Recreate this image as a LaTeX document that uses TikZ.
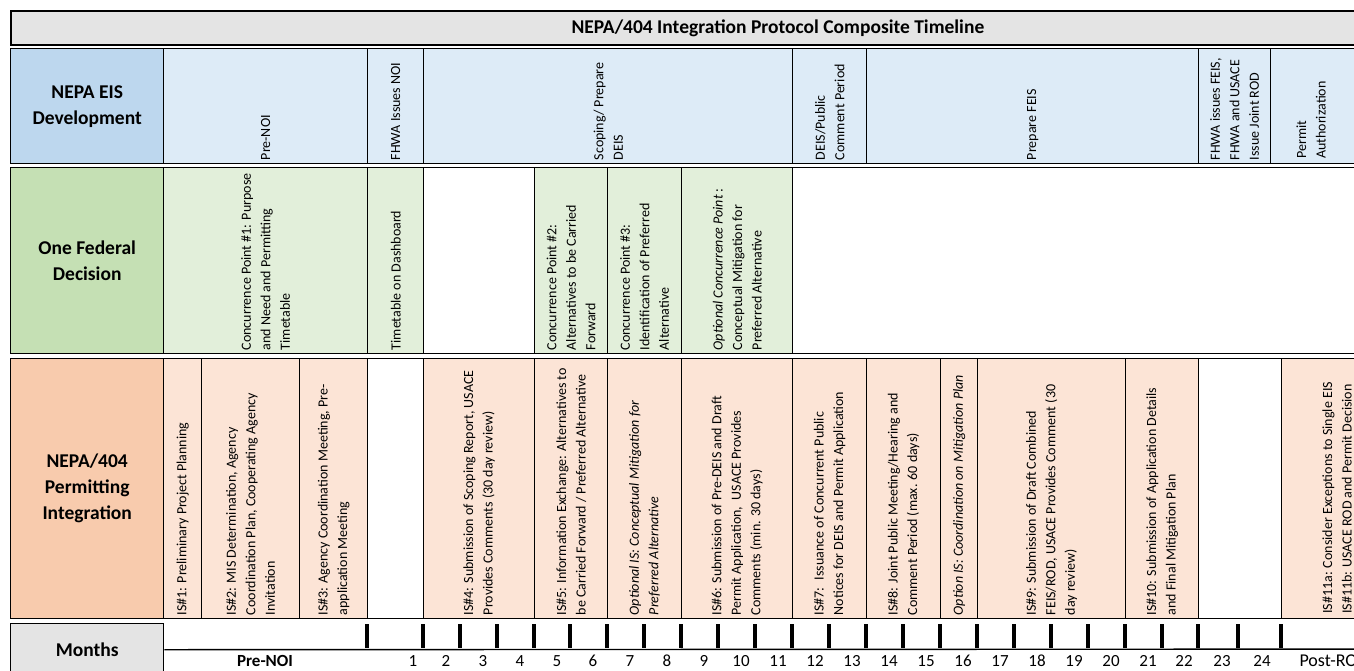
\documentclass[tikz,border=0pt]{standalone}
\usepackage{fontspec}
\setmainfont{Carlito}
\definecolor{eishead}{HTML}{BDD7EE}
\definecolor{eisfill}{HTML}{DDEBF7}
\definecolor{ofdhead}{HTML}{C5E0B4}
\definecolor{ofdfill}{HTML}{E2EFDA}
\definecolor{pmhead}{HTML}{F8CBAD}
\definecolor{pmfill}{HTML}{FCE4D6}
\definecolor{hdgray}{HTML}{E4E4E4}

\begin{document}
\begin{tikzpicture}[x=1pt, y=-1pt,
    cell/.style={draw, line width=1.4pt, inner sep=0pt, anchor=north west},
    head/.style={cell, align=center, font=\bfseries\fontsize{19.5}{26}\selectfont},
    vtext/.style={rotate=90, anchor=west, align=left, inner sep=0pt, font=\fontsize{14}{19.5}\selectfont},
    tickbar/.style={line width=4pt},
    month/.style={font=\fontsize{17}{20}\selectfont}
]
\useasboundingbox (0,0) rectangle (1354,670);

% title bar
\node[head, fill=hdgray, line width=1.8pt, minimum width=1534pt, minimum height=34pt] (title) at (10,10) {NEPA/404 Integration Protocol Composite Timeline};

% NEPA EIS development row
\node[head, fill=eishead, minimum width=153pt, minimum height=115pt] (eis) at (10,48) {NEPA EIS\\Development};
\node[cell, fill=eisfill, minimum width=204pt, minimum height=115pt] (eisPre) at (163,48) {};
\node[cell, fill=eisfill, minimum width=56pt, minimum height=115pt] (eisNoi) at (367,48) {};
\node[cell, fill=eisfill, minimum width=369pt, minimum height=115pt] (eisScope) at (423,48) {};
\node[cell, fill=eisfill, minimum width=74pt, minimum height=115pt] (eisDeis) at (792,48) {};
\node[cell, fill=eisfill, minimum width=332pt, minimum height=115pt] (eisFeis) at (866,48) {};
\node[cell, fill=eisfill, minimum width=72pt, minimum height=115pt] (eisRod) at (1198,48) {};
\node[cell, fill=eisfill, minimum width=274pt, minimum height=115pt] (eisPermit) at (1270,48) {};

\node[vtext] (eisPreTxt) at ([yshift=4pt]eisPre.south) {Pre-NOI};
\node[vtext] (eisNoiTxt) at ([yshift=4pt]eisNoi.south) {FHWA Issues NOI};
\node[vtext] (eisScopeTxt) at ([yshift=4pt]eisScope.south) {Scoping/ Prepare\\DEIS};
\node[vtext] (eisDeisTxt) at ([yshift=4pt]eisDeis.south) {DEIS/Public\\Comment Period};
\node[vtext] (eisFeisTxt) at ([yshift=4pt]eisFeis.south) {Prepare FEIS};
\node[vtext] (eisRodTxt) at ([yshift=4pt]eisRod.south) {FHWA issues FEIS,\\FHWA and USACE\\Issue Joint ROD};
\node[vtext] (eisPermitTxt) at (1311,159) {Permit\\Authorization};

% One Federal Decision row
\node[head, fill=ofdhead, minimum width=153pt, minimum height=186pt] (ofd) at (10,167) {One Federal\\Decision};
\node[cell, fill=ofdfill, minimum width=204pt, minimum height=186pt] (ofdCp1) at (163,167) {};
\node[cell, fill=ofdfill, minimum width=56pt, minimum height=186pt] (ofdDash) at (367,167) {};
\node[cell, fill=white, minimum width=111pt, minimum height=186pt] (ofdGap) at (423,167) {};
\node[cell, fill=ofdfill, minimum width=73pt, minimum height=186pt] (ofdCp2) at (534,167) {};
\node[cell, fill=ofdfill, minimum width=74pt, minimum height=186pt] (ofdCp3) at (607,167) {};
\node[cell, fill=ofdfill, minimum width=111pt, minimum height=186pt] (ofdOpt) at (681,167) {};
\node[cell, fill=white, minimum width=752pt, minimum height=186pt] (ofdRest) at (792,167) {};

\node[vtext] (ofdCp1Txt) at ([yshift=4pt]ofdCp1.south) {Concurrence Point \#1: Purpose\\and Need and Permitting\\Timetable};
\node[vtext] (ofdDashTxt) at ([yshift=4pt]ofdDash.south) {Timetable on Dashboard};
\node[vtext] (ofdCp2Txt) at ([yshift=4pt]ofdCp2.south) {Concurrence Point \#2:\\Alternatives to be Carried\\Forward};
\node[vtext] (ofdCp3Txt) at ([yshift=4pt]ofdCp3.south) {Concurrence Point \#3:\\Identification of Preferred\\Alternative};
\node[vtext] (ofdOptTxt) at ([yshift=4pt]ofdOpt.south) {\textit{Optional Concurrence Point} :\\Conceptual Mitigation for\\Preferred Alternative};

% NEPA/404 permitting integration row
\node[head, fill=pmhead, minimum width=153pt, minimum height=260pt] (pm) at (10,358) {NEPA/404\\Permitting\\Integration};
\node[cell, fill=pmfill, minimum width=38pt, minimum height=260pt] (pmIs1) at (163,358) {};
\node[cell, fill=pmfill, minimum width=98pt, minimum height=260pt] (pmIs2) at (201,358) {};
\node[cell, fill=pmfill, minimum width=68pt, minimum height=260pt] (pmIs3) at (299,358) {};
\node[cell, fill=white, minimum width=56pt, minimum height=260pt] (pmGap) at (367,358) {};
\node[cell, fill=pmfill, minimum width=111pt, minimum height=260pt] (pmIs4) at (423,358) {};
\node[cell, fill=pmfill, minimum width=73pt, minimum height=260pt] (pmIs5) at (534,358) {};
\node[cell, fill=pmfill, minimum width=74pt, minimum height=260pt] (pmOpt) at (607,358) {};
\node[cell, fill=pmfill, minimum width=111pt, minimum height=260pt] (pmIs6) at (681,358) {};
\node[cell, fill=pmfill, minimum width=74pt, minimum height=260pt] (pmIs7) at (792,358) {};
\node[cell, fill=pmfill, minimum width=74pt, minimum height=260pt] (pmIs8) at (866,358) {};
\node[cell, fill=pmfill, minimum width=37pt, minimum height=260pt] (pmMit) at (940,358) {};
\node[cell, fill=pmfill, minimum width=148pt, minimum height=260pt] (pmIs9) at (977,358) {};
\node[cell, fill=pmfill, minimum width=73pt, minimum height=260pt] (pmIs10) at (1125,358) {};
\node[cell, fill=white, minimum width=83pt, minimum height=260pt] (pmGap2) at (1198,358) {};
\node[cell, fill=pmfill, minimum width=263pt, minimum height=260pt] (pmIs11) at (1281,358) {};

\node[vtext] (pmIs1Txt) at ([yshift=4pt]pmIs1.south) {IS\#1: Preliminary Project Planning};
\node[vtext] (pmIs2Txt) at ([yshift=4pt]pmIs2.south) {IS\#2: MIS Determination, Agency\\Coordination Plan, Cooperating Agency\\Invitation};
\node[vtext] (pmIs3Txt) at ([yshift=4pt]pmIs3.south) {IS\#3: Agency Coordination Meeting, Pre-\\application Meeting};
\node[vtext] (pmIs4Txt) at ([yshift=4pt]pmIs4.south) {IS\#4: Submission of Scoping Report, USACE\\Provides Comments (30 day review)};
\node[vtext] (pmIs5Txt) at ([yshift=4pt]pmIs5.south) {IS\#5: Information Exchange: Alternatives to\\be Carried Forward / Preferred Alternative};
\node[vtext, font=\itshape\fontsize{14}{19.5}\selectfont] (pmOptTxt) at ([yshift=4pt]pmOpt.south) {Optional IS: Conceptual Mitigation for\\Preferred Alternative};
\node[vtext] (pmIs6Txt) at ([yshift=4pt]pmIs6.south) {IS\#6: Submission of Pre-DEIS and Draft\\Permit Application, \ USACE Provides\\Comments (min. 30 days)};
\node[vtext] (pmIs7Txt) at ([yshift=4pt]pmIs7.south) {IS\#7: \ Issuance of Concurrent Public\\Notices for DEIS and Permit Application};
\node[vtext] (pmIs8Txt) at ([yshift=4pt]pmIs8.south) {IS\#8: Joint Public Meeting/Hearing and\\Comment Period (max. 60 days)};
\node[vtext, font=\itshape\fontsize{14}{19.5}\selectfont] (pmMitTxt) at ([yshift=4pt]pmMit.south) {Option IS: Coordination on Mitigation Plan};
\node[vtext] (pmIs9Txt) at ([yshift=4pt]pmIs9.south) {IS\#9: Submission of Draft Combined\\FEIS/ROD, USACE Provides Comment (30\\day review)};
\node[vtext] (pmIs10Txt) at ([yshift=4pt]pmIs10.south) {IS\#10: Submission of Application Details\\and Final Mitigation Plan};
\node[vtext] (pmIs11Txt) at (1337,614) {IS\#11a: Consider Exceptions to Single EIS\\IS\#11b: USACE ROD and Permit Decision};

% months scale
\node[head, fill=hdgray, minimum width=153pt, minimum height=52pt] (months) at (10,623) {Months};
\coordinate (monthsEnd) at (1544,649);
\draw[line width=1.4pt] (months.east) -- (monthsEnd);
\foreach \x in {367,423,460,497,534,570,607,644,681,718,755,792,829,866,903,940,977,1014,1051,1088,1125,1162,1198,1238,1281}
    \draw[tickbar] (\x,624) -- (\x,648);

\node[font=\bfseries\fontsize{17}{20}\selectfont] (preNoi) at (265,661) {Pre-NOI};
\node[month] (m1) at (413,661) {1};
\foreach \m/\x in {2/446,3/483,4/520,5/557,6/593,7/630,8/667,9/704,10/741,11/778,12/815,13/852,14/889,15/926,16/963,17/1000,18/1037,19/1074,20/1111,21/1148,22/1184,23/1222,24/1262}
    \node[month] (m\m) at (\x,661) {\m};
\node[month, anchor=west, font=\fontsize{18}{20}\selectfont] (postRod) at (1296,661) {Post-ROD};

\end{tikzpicture}
\end{document}
